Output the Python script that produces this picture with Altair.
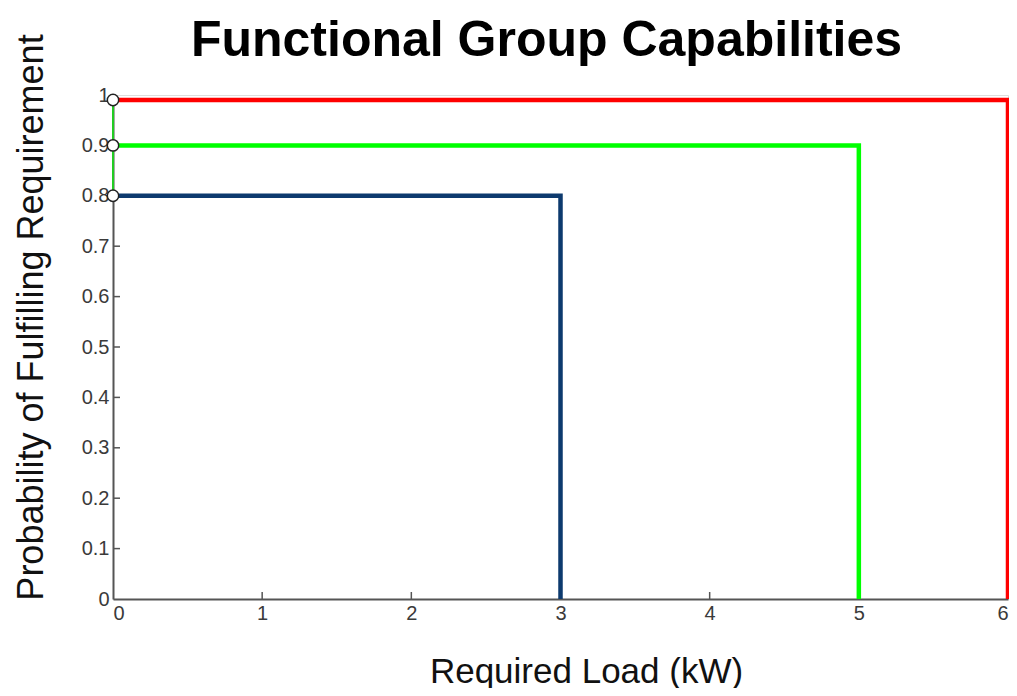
import altair as alt
import pandas as pd

# --- data ---
series_names = ["Group A", "Group B", "Group C"]
capacity_kw = [6, 5, 3]
probability = [0.99, 0.9, 0.8]
series_colors = ["#ff0000", "#00ff00", "#0d3a6e"]
x_ticks = [0, 1, 2, 3, 4, 5, 6]
y_ticks = [0, 0.1, 0.2, 0.3, 0.4, 0.5, 0.6, 0.7, 0.8, 0.9, 1.0]

rows = []
for name, c, p in zip(series_names, capacity_kw, probability):
    rows.append({"series": name, "load": 0, "prob": p, "order": 0})
    rows.append({"series": name, "load": c, "prob": p, "order": 1})
    rows.append({"series": name, "load": c, "prob": 0, "order": 2})
lines_df = pd.DataFrame(rows)

pts_df = pd.DataFrame({"load": [0] * len(probability), "prob": probability})
link_df = pd.DataFrame({"load": [0], "prob": [min(probability)], "prob2": [max(probability)]})
xt_df = pd.DataFrame({"load": x_ticks[1:-1]})
yt_df = pd.DataFrame({"prob": y_ticks[1:-1]})

W, H = 895, 504
FONT = "Liberation Sans"

xscale = alt.Scale(domain=[0, 6], nice=False, zero=False)
yscale = alt.Scale(domain=[0, 1], nice=False)

base = alt.Chart(lines_df)

lines = base.mark_line(strokeWidth=4.5, strokeJoin="miter", clip=False).encode(
    x=alt.X("load:Q", scale=xscale,
            axis=alt.Axis(values=x_ticks, format="~g", title="Required Load (kW)",
                          titleFont=FONT, titleFontSize=35, titleFontWeight="normal",
                          titleColor="#111", titleX=473, titleY=83,
                          titleBaseline="alphabetic", titleAlign="center",
                          labelFont=FONT, labelFontSize=20, labelColor="#3a3a3a",
                          labelPadding=4, tickSize=0, grid=False,
                          domainColor="#555", domainWidth=2)),
    y=alt.Y("prob:Q", scale=yscale,
            axis=alt.Axis(values=y_ticks, format="~g",
                          title="Probability of Fulfilling Requirement",
                          titleFont=FONT, titleFontSize=36, titleFontWeight="normal",
                          titleColor="#111", titleX=-71, titleY=222,
                          titleBaseline="alphabetic", titleAlign="center", titleAngle=-90,
                          labelFont=FONT, labelFontSize=20, labelColor="#3a3a3a",
                          labelPadding=4, tickSize=0, grid=False,
                          domainColor="#555", domainWidth=2)),
    color=alt.Color("series:N", scale=alt.Scale(domain=series_names, range=series_colors),
                    legend=None),
    detail="series:N",
    order="order:Q",
)

link = alt.Chart(link_df).mark_rule(color="#22cc22", strokeWidth=2).encode(
    x=alt.X("load:Q", scale=xscale),
    y=alt.Y("prob:Q", scale=yscale),
    y2="prob2:Q",
)

xticks = alt.Chart(xt_df).mark_rule(color="#555", strokeWidth=1.5).encode(
    x=alt.X("load:Q", scale=xscale),
    y=alt.value(H),
    y2=alt.value(H - 7),
)

yticks = alt.Chart(yt_df).mark_rule(color="#555", strokeWidth=1.5).encode(
    y=alt.Y("prob:Q", scale=yscale),
    x=alt.value(0),
    x2=alt.value(7),
)

points = alt.Chart(pts_df).mark_point(
    shape="circle", filled=True, fill="white", stroke="#222", strokeWidth=1.5,
    size=130, opacity=1,
).encode(
    x=alt.X("load:Q", scale=xscale),
    y=alt.Y("prob:Q", scale=yscale),
)

chart = alt.layer(xticks, yticks, lines, link, points).properties(
    width=W,
    height=H,
    title=alt.TitleParams(
        "Functional Group Capabilities", font=FONT, fontSize=50, fontWeight="bold",
        color="#000", anchor="middle", dx=-14, offset=-32,
    ),
    autosize=alt.AutoSizeParams(type="none"),
    padding={"left": 105, "top": 87, "right": 1, "bottom": 89},
).configure_view(
    stroke="#cfcfcf", strokeWidth=1.5,
).configure(background="white")

chart.save("out.html", embed_options={"renderer": "svg", "actions": False})
